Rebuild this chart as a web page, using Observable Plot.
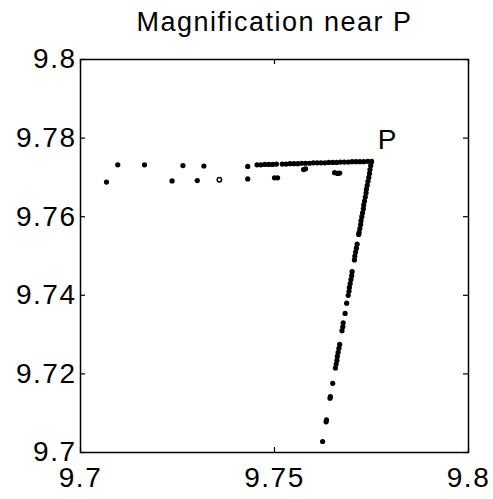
<!DOCTYPE html>
<html><head><meta charset="utf-8">
<script src="https://cdn.jsdelivr.net/npm/d3@7"></script>
<script src="https://cdn.jsdelivr.net/npm/@observablehq/plot@0.6"></script>
<style>
body{margin:0;background:#fff;} svg{display:block;}
#chart svg text{letter-spacing:1.5px;}
#chart svg g[aria-label="title"] text{letter-spacing:2.5px;}
</style>
</head><body><div id="chart"></div>
<script>
const title = "Magnification near P";
const xTicks = [9.7, 9.75, 9.8];
const xTickLabels = ["9.7", "9.75", "9.8"];
const yTicks = [9.7, 9.72, 9.74, 9.76, 9.78, 9.8];
const yTickLabels = ["9.7", "9.72", "9.74", "9.76", "9.78", "9.8"];

// horizontal arm toward P
const armX = [9.7455, 9.7465, 9.7475, 9.7485, 9.7495, 9.7505, 9.752, 9.753, 9.754, 9.755, 9.756, 9.757, 9.758, 9.759, 9.760, 9.761, 9.762, 9.763, 9.764, 9.765, 9.766, 9.767, 9.768, 9.769, 9.770, 9.771, 9.772, 9.773, 9.774, 9.775];
const armY = [9.7732, 9.7732, 9.7733, 9.7733, 9.7733, 9.7734, 9.7734, 9.7734, 9.7735, 9.7735, 9.7735, 9.7736, 9.7736, 9.7736, 9.7737, 9.7737, 9.7737, 9.7737, 9.7738, 9.7738, 9.7738, 9.7739, 9.7739, 9.7739, 9.7740, 9.7740, 9.7740, 9.7740, 9.7741, 9.7741];

// descending leg from P
const legX = [9.7750, 9.7748, 9.7746, 9.7745, 9.7743, 9.7741, 9.7739, 9.7737, 9.7736, 9.7734, 9.7732, 9.7730, 9.7729, 9.7727, 9.7725, 9.7723, 9.7722, 9.7720, 9.7718, 9.7717,
  9.7713, 9.7711, 9.7709, 9.7707, 9.7706,
  9.7700, 9.7699, 9.7697, 9.7695, 9.7693, 9.7692, 9.7690,
  9.7686, 9.7682,
  9.7677, 9.7676, 9.7674,
  9.7668, 9.7666, 9.7664, 9.7662, 9.7661, 9.7659, 9.7657,
  9.7650, 9.7644, 9.7643, 9.7634, 9.7633, 9.7624];
const legY = [9.774, 9.773, 9.772, 9.771, 9.770, 9.769, 9.768, 9.767, 9.766, 9.765, 9.764, 9.763, 9.762, 9.761, 9.760, 9.759, 9.758, 9.757, 9.756, 9.7555,
  9.753, 9.752, 9.751, 9.750, 9.749,
  9.746, 9.745, 9.744, 9.743, 9.742, 9.741, 9.740,
  9.738, 9.7354,
  9.733, 9.732, 9.731,
  9.7275, 9.7265, 9.7255, 9.7245, 9.7235, 9.7225, 9.7215,
  9.7176, 9.7142, 9.7138, 9.7083, 9.7078, 9.7028];

// scattered points
const scatterX = [9.7096, 9.7165, 9.7264, 9.7318, 9.7431, 9.7067, 9.7236, 9.7301, 9.7431, 9.7500, 9.7508, 9.7575, 9.7580, 9.7655, 9.7663, 9.7668];
const scatterY = [9.7732, 9.7732, 9.7730, 9.7729, 9.7728, 9.7688, 9.7691, 9.7692, 9.7696, 9.7699, 9.7699, 9.7720, 9.7722, 9.7712, 9.7710, 9.7711];
const hollowX = [9.7358];
const hollowY = [9.7694];

const labelText = ["P"];
const labelX = [9.7766];
const labelY = [9.7771];

const pts = (xs, ys) => xs.map((x, i) => ({x, y: ys[i]}));
const W = 493, H = 499, mL = 80, mR = 25, mT = 59, mB = 47;
const pw = W - mL - mR, ph = H - mT - mB;
const tickLen = 5;
const font = "Liberation Sans, Arial, Helvetica, sans-serif";

const chart = Plot.plot({
  width: W, height: H,
  marginLeft: mL, marginRight: mR, marginTop: mT, marginBottom: mB,
  style: {fontFamily: font, background: "#fff", color: "#000", overflow: "visible"},
  x: {domain: [9.7, 9.8]},
  y: {domain: [9.7, 9.8]},
  marks: [
    Plot.frame({stroke: "#000", strokeWidth: 1.5}),
    Plot.tickX(xTicks, {x: d => d, insetTop: ph - tickLen, stroke: "#000", strokeWidth: 1.2}),
    Plot.tickX(xTicks, {x: d => d, insetBottom: ph - tickLen, stroke: "#000", strokeWidth: 1.2}),
    Plot.tickY(yTicks, {y: d => d, insetRight: pw - tickLen, stroke: "#000", strokeWidth: 1.2}),
    Plot.tickY(yTicks, {y: d => d, insetLeft: pw - tickLen, stroke: "#000", strokeWidth: 1.2}),
    Plot.axisX({ticks: xTicks, tickFormat: (d, i) => xTickLabels[i], tickSize: 0, tickPadding: 15, fontSize: 28, label: null}),
    Plot.axisY({ticks: yTicks, tickFormat: (d, i) => yTickLabels[i], tickSize: 0, tickPadding: 4, fontSize: 28, label: null}),
    Plot.dot(pts(armX, armY), {x: "x", y: "y", r: 2.6, fill: "#000", stroke: "none"}),
    Plot.dot(pts(legX, legY), {x: "x", y: "y", r: 2.6, fill: "#000", stroke: "none"}),
    Plot.dot(pts(scatterX, scatterY), {x: "x", y: "y", r: 2.6, fill: "#000", stroke: "none"}),
    Plot.dot(pts(hollowX, hollowY), {x: "x", y: "y", r: 2.2, fill: "#fff", stroke: "#000", strokeWidth: 1.5}),
    Plot.text(labelText, {x: (d, i) => labelX[i], y: (d, i) => labelY[i], text: d => d, textAnchor: "start", lineAnchor: "bottom", fontSize: 28, fill: "#000"}),
    Plot.text([title], {frameAnchor: "top", text: d => d, dy: -29, lineAnchor: "bottom", fontSize: 27, fill: "#000", ariaLabel: "title"})
  ]
});
document.getElementById("chart").appendChild(chart);
</script>
</body></html>
